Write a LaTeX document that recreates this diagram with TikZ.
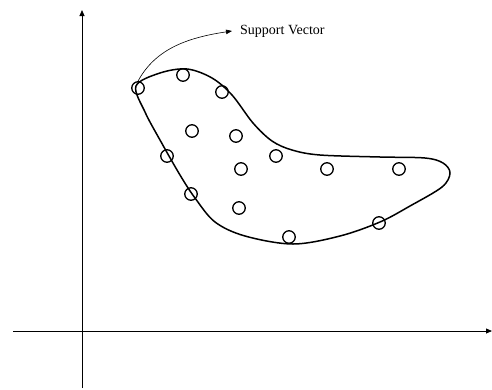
\documentclass[tikz,border=0pt]{standalone}
\usepackage{fontspec}
\setmainfont{Liberation Serif}
\usetikzlibrary{arrows.meta}
\begin{document}
\begin{tikzpicture}[x=1pt,y=-1pt,
  pt/.style={draw,circle,minimum size=12.5pt,inner sep=0pt,line width=1.3pt},
  axis/.style={line width=0.8pt,-{Triangle[length=6pt,width=5pt]}},
  blob/.style={line width=1.5pt}]
\useasboundingbox (0,0) rectangle (492,389);
% axes
\coordinate (yb) at (82,388);
\coordinate (yt) at (82,10);
\coordinate (xl) at (13,331);
\coordinate (xr) at (492,331);
\draw[axis] (yb) -- (yt);
\draw[axis] (xl) -- (xr);
% boundary
\draw[blob] plot[smooth cycle,tension=0.55] coordinates {
  (136,86) (160,73) (187,69) (212,78) (232,95) (253,123) (272,141) (292,150)
  (320,155) (380,157) (425,158) (443,163) (450,173) (442,187) (410,206) (380,222)
  (340,236) (293,244) (245,236) (215,222) (195,198) (180,175) (160,140) (145,112)};
% points
\node[pt] (p1) at (138,88) {};
\node[pt] (p2) at (183,75) {};
\node[pt] (p3) at (222,92) {};
\node[pt] (p4) at (192,131) {};
\node[pt] (p5) at (236,136) {};
\node[pt] (p6) at (167,156) {};
\node[pt] (p7) at (276,156) {};
\node[pt] (p8) at (241,169) {};
\node[pt] (p9) at (327,169) {};
\node[pt] (p10) at (399,169) {};
\node[pt] (p11) at (191,194) {};
\node[pt] (p12) at (239,208) {};
\node[pt] (p13) at (379,223) {};
\node[pt] (p14) at (289,237) {};
% label
\node[anchor=west,inner sep=0pt,font=\fontsize{14}{16}\selectfont] (lab) at (240,31) {Support Vector};
\draw[line width=0.6pt,-{Triangle[length=6pt,width=4.5pt]}] (p1.north) .. controls (155,50) and (185,38) .. ([xshift=-8pt]lab.west);
\end{tikzpicture}
\end{document}
